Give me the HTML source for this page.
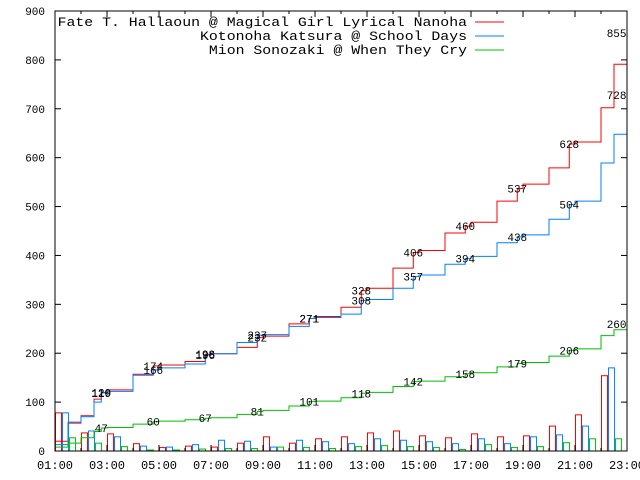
<!DOCTYPE html>
<html><head><meta charset="utf-8"><style>
html,body{margin:0;padding:0;background:#fff}
svg{display:block}
text{font-family:"Liberation Mono","DejaVu Sans Mono",monospace;fill:#000}
</style></head><body>
<svg id="chart" width="640" height="480" viewBox="0 0 640 480" xmlns="http://www.w3.org/2000/svg">
<g id="bars"></g>
<g id="lines"></g>
<g id="labels"></g>
<g id="axes"></g>
<g id="legend"></g>
</svg>
<script>
const hours = [1,2,3,4,5,6,7,8,9,10,11,12,13,14,15,16,17,18,19,20,21,22];
const barRed   = [78,37,35,15,7,10,8,16,29,16,25,29,37,41,31,27,35,29,31,51,74,154];
const barBlue  = [78,41,29,10,8,13,22,20,8,22,19,15,25,22,19,15,25,15,29,33,51,170];
const barGreen = [27,16,9,2,2,4,5,5,8,7,5,9,11,9,7,3,13,7,9,17,25,25];
const lineTimes = [1,1.5,2,2.5,2.78,3,4,4.78,5,6,6.78,7,8,8.78,9,10,10.78,11,12,12.78,13,14,14.78,15,16,16.78,17,18,18.78,19,20,20.78,21,22,22.5,23];
const cumRed  = [20,57,72,106,120,125,157,174,176,183,198,199,212,232,235,260,271,275,294,328,333,374,406,410,446,460,468,511,537,546,579,628,632,702,791,855];
const cumBlue = [13,59,70,100,119,122,155,166,170,178,196,199,222,237,238,255,271,273,280,308,310,333,357,360,382,394,398,426,438,442,474,504,511,589,648,728];
const cumGreen= [8,16,27,40,47,48,55,60,61,64,67,68,75,81,83,92,101,102,109,118,120,132,142,143,152,158,160,172,179,181,194,206,209,236,248,262];
const labelTimes = [2.78,4.78,6.78,8.78,10.78,12.78,14.78,16.78,18.78,20.78,22.6];
const labRed   = [120,174,198,232,271,328,406,460,537,628,855];
const labBlue  = [119,166,196,237,271,308,357,394,438,504,728];
const labGreen = [47,60,67,81,101,118,142,158,179,206,260];
const yTicks = [0,100,200,300,400,500,600,700,800,900];
const xTickLabels = ["01:00","03:00","05:00","07:00","09:00","11:00","13:00","15:00","17:00","19:00","21:00","23:00"];
const seriesNames = ["Fate T. Hallaoun @ Magical Girl Lyrical Nanoha","Kotonoha Katsura @ School Days","Mion Sonozaki @ When They Cry"];

const L=55,R=627,T=11,B=451;
const X = t => L + (t-1)*(R-L)/22;
const Y = v => B - v*(B-T)/900;
const NS="http://www.w3.org/2000/svg";
const colors=["#ff0000","#0080ff","#00c000"];
function mk(tag,attrs,parent){const e=document.createElementNS(NS,tag);for(const k in attrs)e.setAttribute(k,attrs[k]);parent.appendChild(e);return e;}

const gb=document.getElementById('bars');
const bw=0.27;
[barRed,barBlue,barGreen].forEach((arr,si)=>{
  arr.forEach((v,i)=>{
    const x0=X(hours[i]+si*bw), x1=X(hours[i]+(si+1)*bw);
    const r=mk('rect',{x:x0+0.5,y:Y(v),width:x1-x0-1,height:B-Y(v),fill:'none',stroke:colors[si],'stroke-width':1},gb);
    
    
  });
});
const gl=document.getElementById('lines');
[cumRed,cumBlue,cumGreen].forEach((arr,si)=>{
  let d='';
  arr.forEach((v,i)=>{
    if(i===0){d+='M'+X(lineTimes[i])+','+Y(v);}
    else{d+=' H'+X(lineTimes[i])+' V'+Y(v);}
  });
  const p=mk('path',{d:d,fill:'none',stroke:colors[si],'stroke-width':1},gl);
  
  
});
const glab=document.getElementById('labels');
[labRed,labBlue,labGreen].forEach((arr,si)=>{
  arr.forEach((v,i)=>{
    const t=mk('text',{x:X(labelTimes[i]),y:Y(v)+4,'font-size':11,'text-anchor':'middle'},glab);
    t.textContent=v;
    
    
  });
});
const ga=document.getElementById('axes');
const fr=mk('rect',{x:L,y:T,width:R-L,height:B-T,fill:'none',stroke:'#000','stroke-width':1},ga);


yTicks.forEach(v=>{
  mk('line',{x1:L,x2:L+6,y1:Y(v),y2:Y(v),stroke:'#000'},ga);
  mk('line',{x1:R,x2:R-6,y1:Y(v),y2:Y(v),stroke:'#000'},ga);
  const t=mk('text',{x:45,y:Y(v)+4,'font-size':11,'text-anchor':'end'},ga);
  t.textContent=v;
  
  
});
for(let h=1;h<=23;h++){
  const len=(h%2===1)?6:3;
  mk('line',{x1:X(h),x2:X(h),y1:B,y2:B-len,stroke:'#000'},ga);
  mk('line',{x1:X(h),x2:X(h),y1:T,y2:T+len,stroke:'#000'},ga);
}
xTickLabels.forEach((s,i)=>{
  const t=mk('text',{x:X(1+2*i),y:469,'font-size':12,'text-anchor':'middle'},ga);
  t.textContent=s;
  
  
});
const gleg=document.getElementById('legend');
seriesNames.forEach((s,i)=>{
  const y=22+i*14;
  const t=mk('text',{x:467,y:y+4,'font-size':13,'text-anchor':'end',textLength:s.length*8.9,lengthAdjust:'spacingAndGlyphs'},gleg);
  t.textContent=s;
  
  
  const l=mk('line',{x1:475,x2:504,y1:y,y2:y,stroke:colors[i],'stroke-width':1},gleg);
  
  
});
</script>
</body></html>
